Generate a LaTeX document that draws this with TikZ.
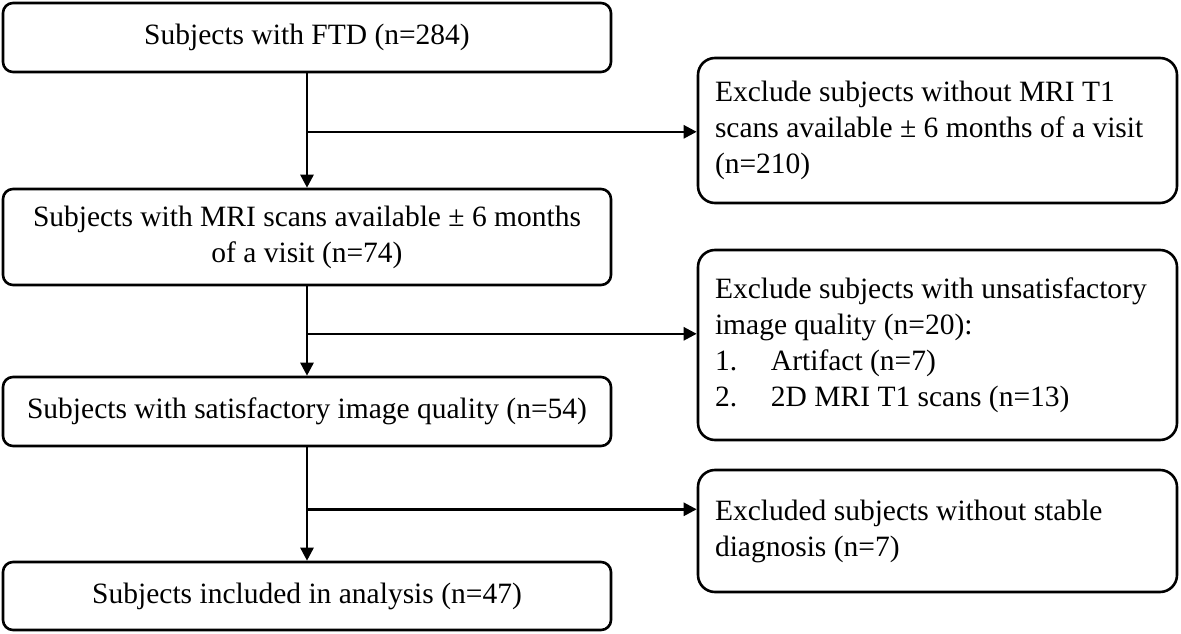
\documentclass[tikz,border=0pt]{standalone}
\usepackage{fontspec}
\setmainfont{Liberation Serif}
\usetikzlibrary{arrows.meta,calc}
\begin{document}
\begin{tikzpicture}[x=1pt,y=-1pt,
  txt/.style={font=\fontsize{29.5}{36}\selectfont},
  lbox/.style={txt, draw, line width=2.6pt, rounded corners=10pt, minimum width=608pt, inner sep=0pt, align=center},
  rbox/.style={txt, draw, line width=2.6pt, rounded corners=17pt, text width=445pt, inner xsep=17pt, inner ysep=0pt, align=flush left},
  conn/.style={line width=2.6pt},
  arr/.style={conn, -{Triangle[length=13pt,width=13pt]}}]
\useasboundingbox (0,0) rectangle (1181,634);
\node[lbox, minimum height=69pt] (b1) at (307,37.5) {Subjects with FTD (n=284)};
\node[lbox, minimum height=96pt] (b2) at (307,237) {Subjects with MRI scans available ± 6 months\\of a visit (n=74)};
\node[lbox, minimum height=69pt] (b3) at (307,411.5) {Subjects with satisfactory image quality (n=54)};
\node[lbox, minimum height=68pt] (b4) at (307,596) {Subjects included in analysis (n=47)};
\node[rbox, minimum height=145pt] (r1) at (937.5,130.5) {Exclude subjects without MRI T1\\scans available ± 6 months of a visit\\(n=210)};
\node[rbox, minimum height=190pt] (r2) at (937.5,345) {Exclude subjects with unsatisfactory\\image quality (n=20):\\\makebox[56pt][l]{1.}Artifact (n=7)\\\makebox[56pt][l]{2.}2D MRI T1 scans (n=13)};
\node[rbox, minimum height=122pt] (r3) at (937.5,531) {Excluded subjects without stable\\diagnosis (n=7)};
\coordinate (j1) at ($(b1.south)+(0,58.5)$);
\coordinate (j2) at ($(b2.south)+(0,47.5)$);
\coordinate (j3) at ($(b3.south)+(0,62)$);
\draw[arr] (b1.south) -- (b2.north);
\draw[arr] (b2.south) -- (b3.north);
\draw[arr] (b3.south) -- (b4.north);
\draw[arr] (j1) -- (j1 -| r1.west);
\draw[arr] (j2) -- (j2 -| r2.west);
\draw[arr] (j3) -- (j3 -| r3.west);
\end{tikzpicture}
\end{document}
